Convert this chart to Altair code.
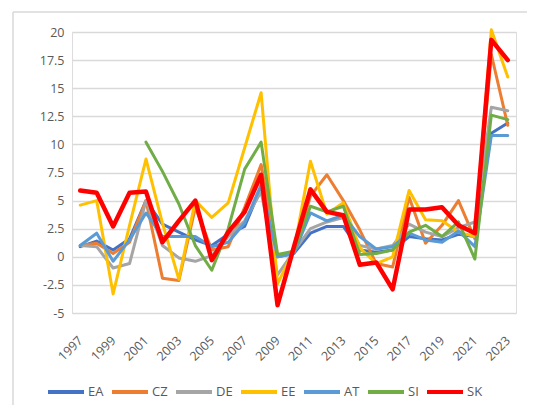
import altair as alt
import pandas as pd

years = list(range(1997, 2024))
series_names = ["EA", "CZ", "DE", "EE", "AT", "SI", "SK"]
colors = ["#4472C4", "#ED7D31", "#A5A5A5", "#FFC000", "#5B9BD5", "#70AD47", "#FF0000"]

EA = [0.9, 1.4, 0.6, 1.6, 5.0, 2.9, 2.2, 1.5, 1.0, 2.0, 2.7, 6.2, 0.0, 0.3, 2.1, 2.7, 2.7, 0.6,
      0.4, 0.6, 1.8, 1.6, 1.5, 2.0, 1.8, 11.0, 11.9]
CZ = [1.0, 1.2, 0.3, 1.3, 5.0, -1.9, -2.1, 4.4, 0.6, 0.9, 4.4, 8.2, 0.1, 0.5, 5.4, 7.3, 5.0, 2.4,
      -0.6, -0.9, 5.3, 1.2, 2.8, 5.0, 1.6, 18.0, 11.7]
DE = [1.0, 0.9, -1.0, -0.6, 5.0, 1.0, -0.1, -0.4, 0.1, 1.8, 3.2, 5.8, -1.6, 0.5, 2.5, 3.1, 3.5, 1.0,
      0.7, 1.0, 2.9, 2.2, 1.8, 2.6, 3.1, 13.3, 13.0]
EE = [4.6, 5.0, -3.3, 2.8, 8.7, 3.0, -2.0, 5.0, 3.5, 4.8, 9.7, 14.6, -2.4, 0.6, 8.5, 3.8, 4.8, 0.8,
      -0.6, 0.0, 5.9, 3.3, 3.2, 2.2, 1.8, 20.2, 16.0]
AT = [1.0, 2.1, -0.4, 1.5, 3.9, 1.8, 1.8, 1.8, 0.9, 1.3, 3.0, 6.4, 0.0, 0.3, 3.9, 3.2, 3.7, 1.8,
      0.7, 0.9, 2.1, 1.5, 1.3, 2.3, 0.9, 10.8, 10.8]
SI = [None, None, None, None, 10.2, 7.6, 4.7, 1.0, -1.2, 2.5, 7.8, 10.2, 0.2, 0.5, 4.5, 4.0, 4.5, 0.2,
      0.3, 0.6, 2.2, 2.8, 1.8, 3.1, -0.2, 12.6, 12.2]
SK = [5.9, 5.7, 2.7, 5.7, 5.8, 1.3, 3.2, 5.0, -0.3, 2.2, 4.0, 7.3, -4.3, 0.9, 6.0, 4.0, 3.7, -0.7,
      -0.5, -2.9, 4.2, 4.2, 4.4, 2.8, 2.1, 19.3, 17.5]

y_ticks = [-5, -2.5, 0, 2.5, 5, 7.5, 10, 12.5, 15, 17.5, 20]
x_label_years = list(range(1997, 2024, 2))

rows = []
for name, vals in zip(series_names, [EA, CZ, DE, EE, AT, SI, SK]):
    for yr, v in zip(years, vals):
        if v is not None:
            rows.append({"year": yr, "value": v, "series": name})
df = pd.DataFrame(rows)

FONT = "Open Sans"
TXT = "#595959"
W, H = 444, 281

x_enc = alt.X("year:O", scale=alt.Scale(type="point", padding=0.5),
              axis=alt.Axis(values=x_label_years, labelAngle=-45, labelAlign="right",
                            labelBaseline="middle", labelPadding=25, domain=False, ticks=False,
                            grid=False, title=None, labelFontSize=12.5, labelColor=TXT,
                            labelFont=FONT))
y_enc = alt.Y("value:Q", scale=alt.Scale(domain=[-5, 20], nice=False, zero=False),
              axis=alt.Axis(values=y_ticks, domain=False, ticks=False, grid=True,
                            gridColor="#D9D9D9", gridWidth=1.3, title=None,
                            labelExpr="'' + datum.value", labelFontSize=12.5,
                            labelColor=TXT, labelFont=FONT, labelPadding=8))
color_enc = alt.Color("series:N",
                      scale=alt.Scale(domain=series_names, range=colors),
                      legend=alt.Legend(title=None, orient="none", direction="horizontal",
                                        legendX=-26, legendY=340, symbolType="stroke",
                                        symbolSize=1296, symbolStrokeWidth=4,
                                        labelOffset=2, columnPadding=0,
                                        labelFontSize=13, labelColor=TXT, labelFont=FONT))

base = alt.Chart(df).encode(x=x_enc, y=y_enc, color=color_enc,
                            order=alt.value(0))

others = base.transform_filter(alt.datum.series != "SK").mark_line(
    strokeWidth=3, strokeCap="round", strokeJoin="round")
sk = base.transform_filter(alt.datum.series == "SK").mark_line(
    strokeWidth=4.5, strokeCap="round", strokeJoin="round")

frame_df = pd.DataFrame({"k": [0]})
left_border = alt.Chart(frame_df).mark_rule(color="#D9D9D9", strokeWidth=1.5).encode(
    x=alt.value(-59), y=alt.value(-20), y2=alt.value(400))
top_border = alt.Chart(frame_df).mark_rule(color="#D9D9D9", strokeWidth=1.5).encode(
    x=alt.value(-59), x2=alt.value(470), y=alt.value(-20))

chart = alt.layer(left_border, top_border, others, sk).properties(
    width=W, height=H,
    autosize=alt.AutoSizeParams(type="none"),
    padding={"left": 64, "top": 24, "right": 11, "bottom": 92},
).configure_view(stroke=None).configure(background="white")

chart.save("out.html", embed_options={"renderer": "svg", "actions": False})
